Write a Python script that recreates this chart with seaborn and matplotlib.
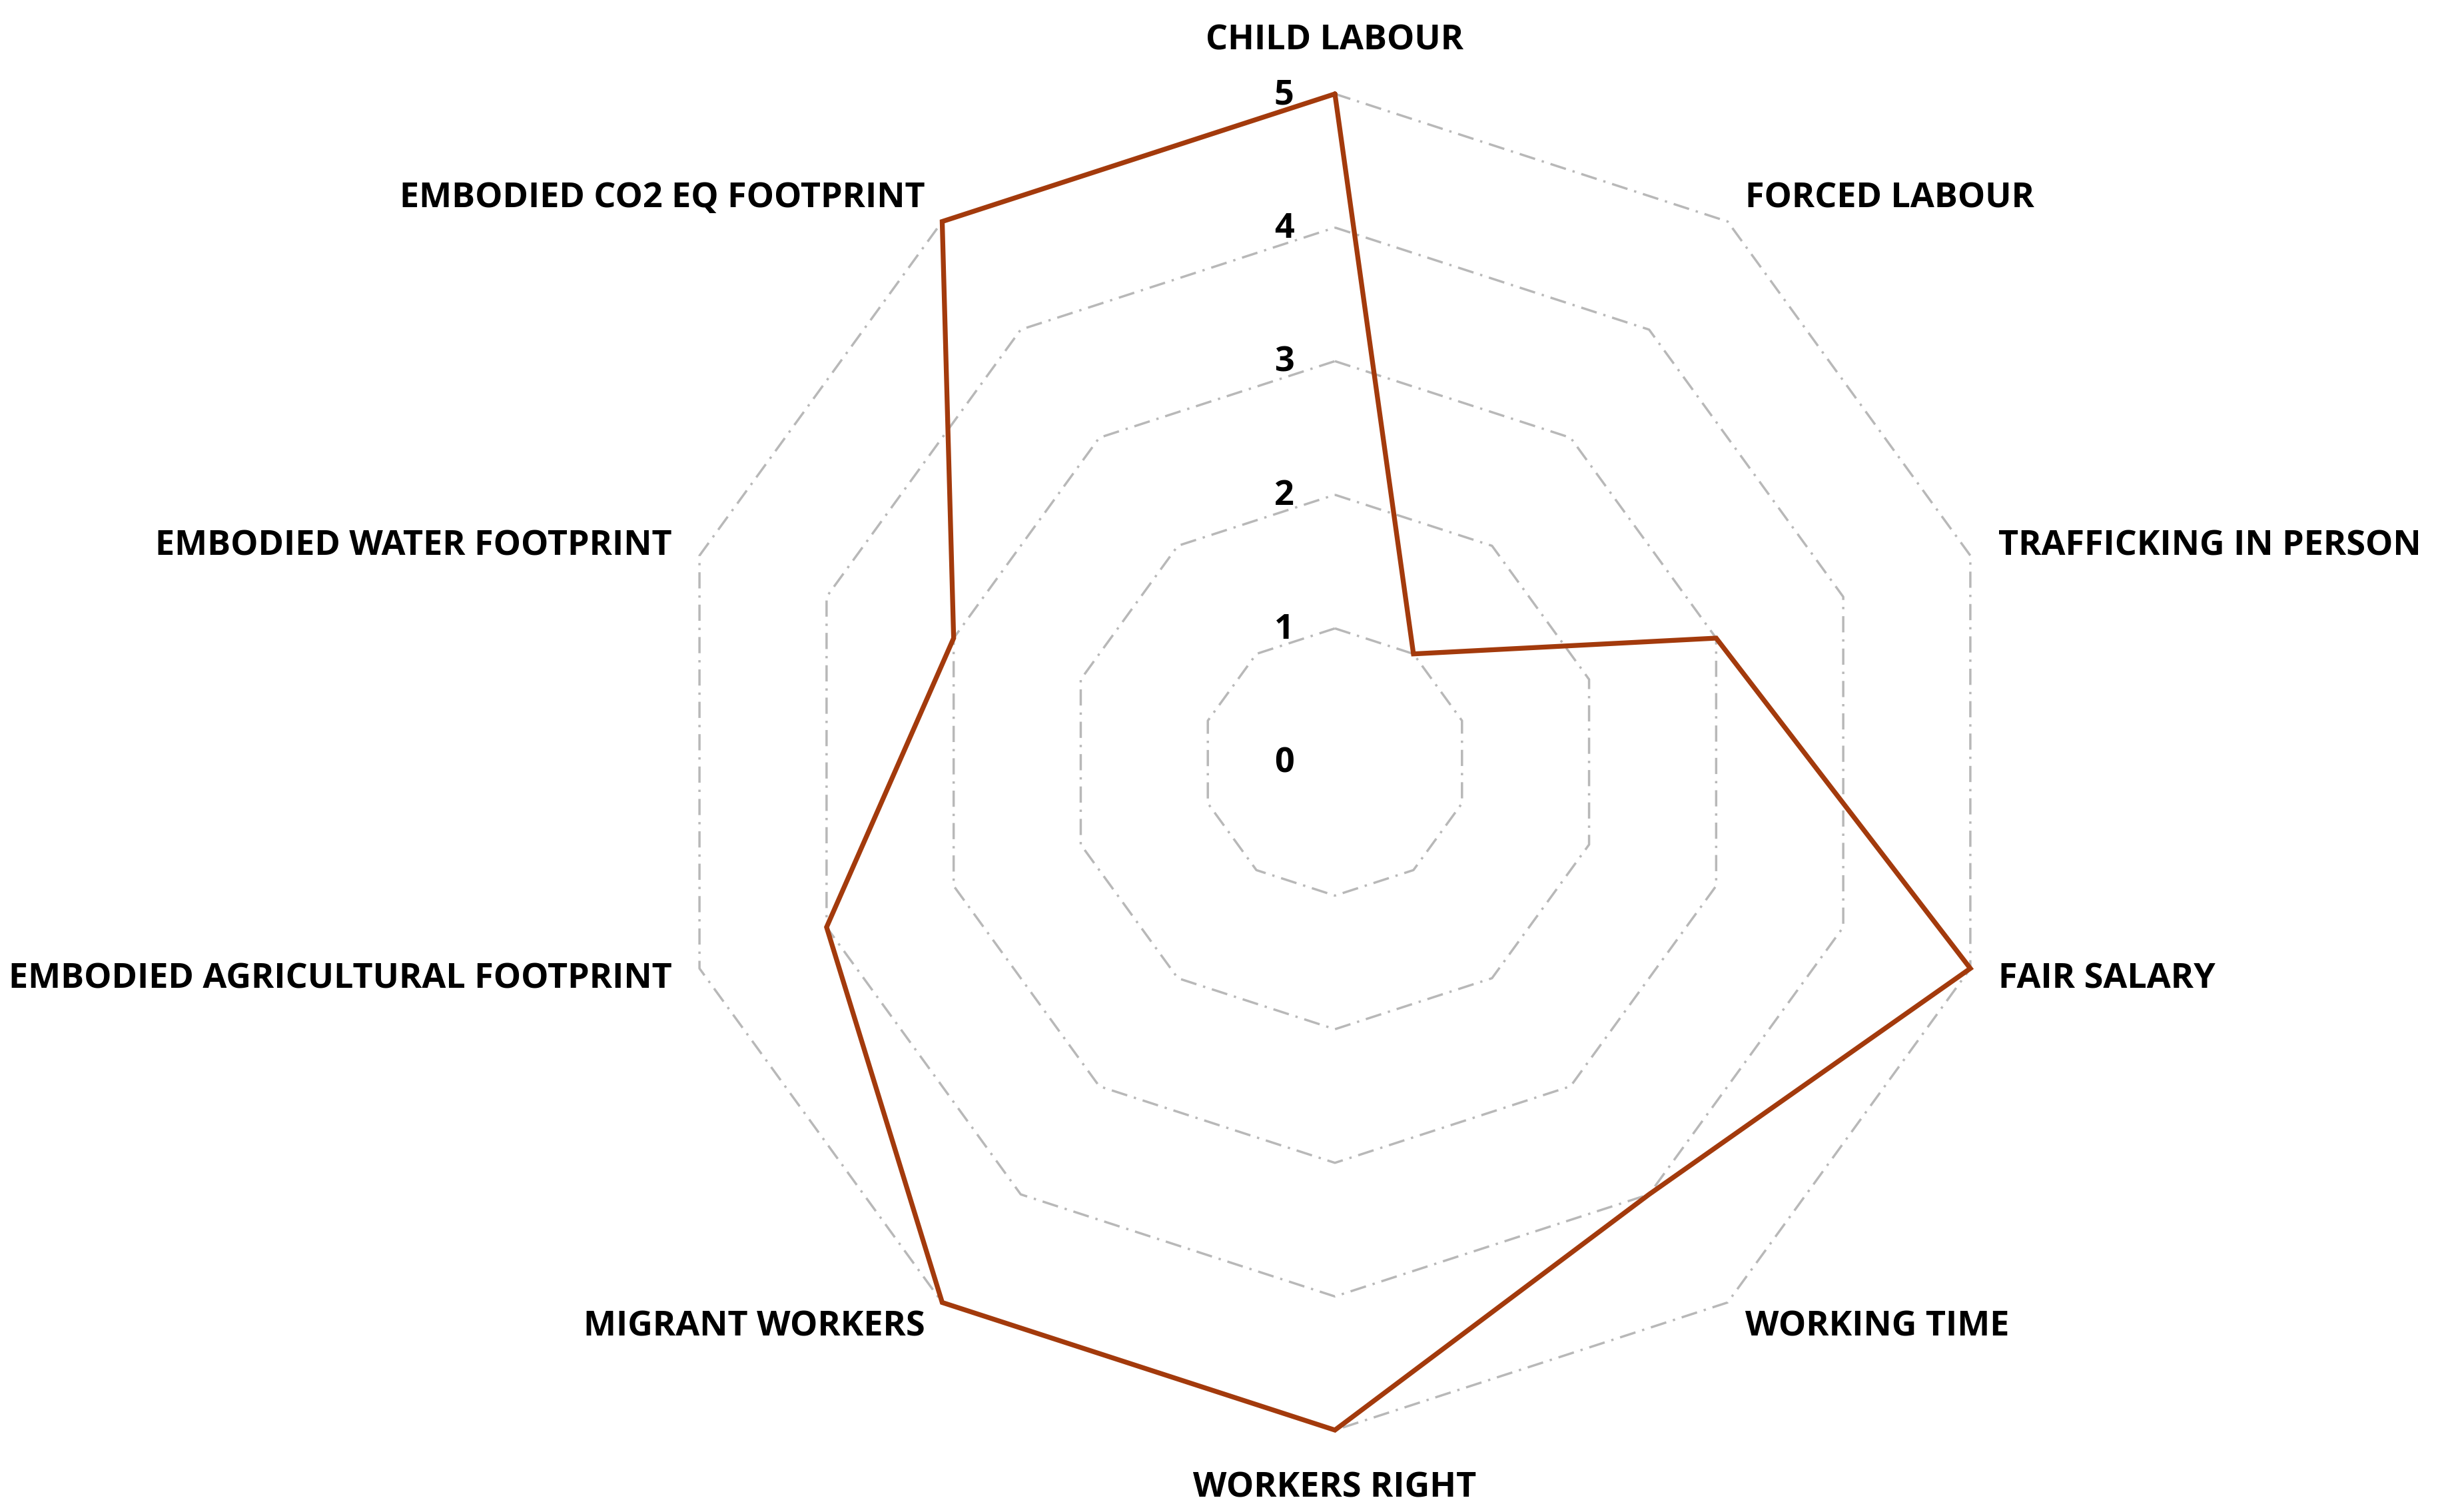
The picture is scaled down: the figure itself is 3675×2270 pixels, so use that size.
import numpy as np
import pandas as pd
import matplotlib
matplotlib.use("Agg")
import matplotlib.pyplot as plt
import seaborn as sns

categories = [
    "CHILD LABOUR", "FORCED LABOUR", "TRAFFICKING IN PERSON", "FAIR SALARY",
    "WORKING TIME", "WORKERS RIGHT", "MIGRANT WORKERS",
    "EMBODIED AGRICULTURAL FOOTPRINT", "EMBODIED WATER FOOTPRINT",
    "EMBODIED CO2 EQ FOOTPRINT",
]
values = [5, 1, 3, 5, 4, 5, 5, 4, 3, 5]
grid_levels = [1, 2, 3, 4, 5]
tick_labels = ["0", "1", "2", "3", "4", "5"]

sns.set_theme(style="white")
plt.rcParams["font.family"] = ["Open Sans", "DejaVu Sans"]

LINE_COLOR = "#A33A0C"
GRID_COLOR = "#B8B8B8"
FS = 15

W, H = 3675, 2270
DPI = 250
fig = plt.figure(figsize=(W / DPI, H / DPI), dpi=DPI)
fig.patch.set_facecolor("white")

cx, cy, R = 2004, 1144, 1003
ax = fig.add_axes([(cx - R) / W, (H - cy - R) / H, 2 * R / W, 2 * R / H], projection="polar")
ax.set_theta_zero_location("N")
ax.set_theta_direction(-1)
ax.set_ylim(0, 5)
ax.grid(False)
ax.spines["polar"].set_visible(False)
ax.set_xticks([])
ax.set_yticks([])
ax.set_facecolor("none")

n = len(categories)
theta = np.arange(n) * 2 * np.pi / n
theta_closed = np.append(theta, theta[0])

# polygon gridlines
for lvl in grid_levels:
    ax.plot(theta_closed, [lvl] * (n + 1), color=GRID_COLOR, lw=1.0,
            linestyle=(0, (7, 3, 1, 3)), zorder=1, clip_on=False)

# data line via seaborn
df = pd.DataFrame({"theta": theta_closed, "value": values + [values[0]], "order": range(n + 1)})
sns.lineplot(data=df, x="theta", y="value", ax=ax, sort=False, estimator=None,
             color=LINE_COLOR, lw=2.1, zorder=3)
for l in ax.lines[-1:]:
    l.set_clip_on(False)
    l.set_solid_joinstyle("miter")
ax.set_xlabel("")
ax.set_ylabel("")

# radial tick labels
for i, t in enumerate(tick_labels):
    ax.annotate(t, xy=(0, i), xytext=(-22, -0.5), textcoords="offset points",
                ha="center", va="center", fontsize=FS, fontweight="bold", color="black")

# category labels
for th, cat in zip(theta, categories):
    s = np.sin(th)
    c = np.cos(th)
    if abs(s) < 0.1:
        ha = "center"
        dx = 0
        dy = 23 if c > 0 else -25
    else:
        ha = "left" if s > 0 else "right"
        if abs(c) > 0.5:
            dx = 7.5 if s > 0 else -7.5
            dy = 10 if c > 0 else -10.5
        else:
            dx = 12 if s > 0 else -12
            dy = 4 if c > 0 else -4.5
    ax.annotate(cat, xy=(th, 5), xytext=(dx, dy), textcoords="offset points",
                ha=ha, va="center", fontsize=FS, fontweight="bold", color="black",
                annotation_clip=False)

fig.savefig("out.png", dpi=DPI, facecolor="white")
